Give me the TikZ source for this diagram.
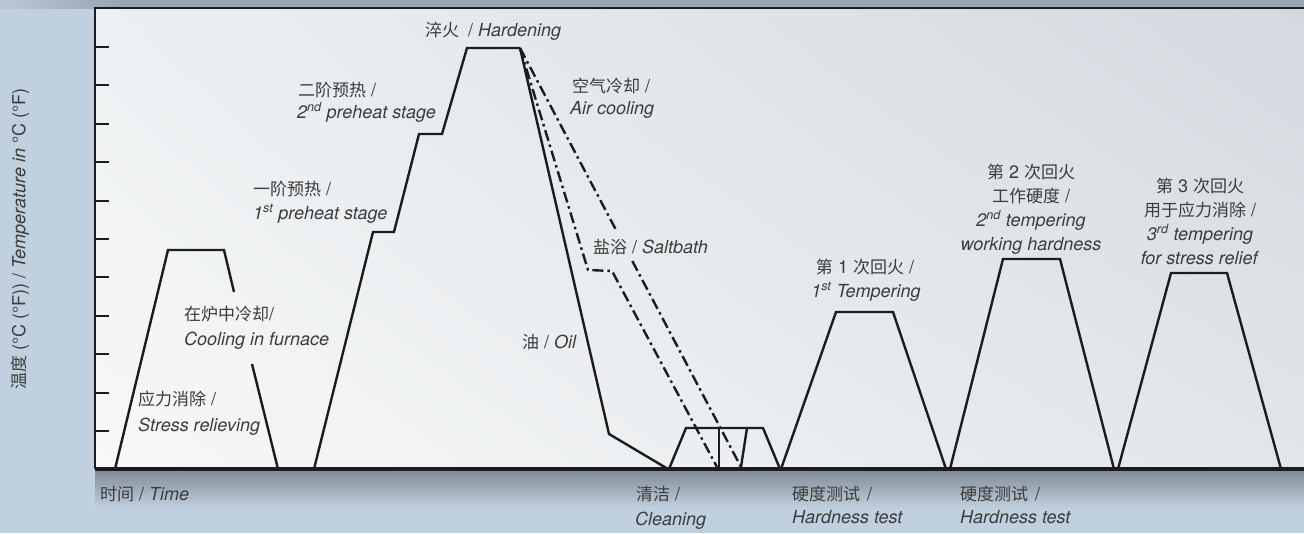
\documentclass[tikz,border=0pt]{standalone}
\usepackage{fontspec}
\setmainfont{TeX Gyre Heros}
\newfontfamily\cjk{Noto Sans CJK SC}
\usetikzlibrary{shadings}
\definecolor{bgblue}{HTML}{C1D0DE}
\definecolor{topband}{HTML}{9AA5B2}
\definecolor{linec}{HTML}{1C1C1C}
\definecolor{txt}{HTML}{3C3C3C}
\definecolor{shadowc}{HTML}{7F8994}
\definecolor{pul}{HTML}{EDF0F2}
\definecolor{pur}{HTML}{D3D9DF}
\definecolor{pll}{HTML}{F7F8F8}
\definecolor{plr}{HTML}{E2E6EA}
\newcommand{\zh}[1]{{\fontsize{17}{21}\selectfont\cjk #1}}
\begin{document}
\begin{tikzpicture}[x=1pt,y=-1pt,
  curve/.style={draw=linec, line width=2.4pt, line join=miter},
  dashdot/.style={curve, dash pattern=on 11pt off 4pt on 2.5pt off 4pt},
  tick/.style={draw=linec, line width=1.8pt},
  lbl/.style={text=txt, font=\fontsize{18}{21}\selectfont, inner sep=0pt, anchor=base west},
  lblc/.style={lbl, anchor=base},
]
\useasboundingbox (0,0) rectangle (1304,533);
% backgrounds
\fill[bgblue] (0,0) rectangle (1304,533);
\shade[left color=bgblue!80!topband, right color=topband] (0,0) rectangle (120,8);
\fill[topband] (120,0) rectangle (1304,8);
\shade[upper left=pul, upper right=pur, lower left=pll, lower right=plr] (95,8) rectangle (1304,469);
\shade[top color=shadowc, bottom color=bgblue] (95,469) rectangle (1304,508);
% frame
\draw[linec, line width=2pt] (95,469) -- (95,8) -- (1304,8);
\foreach \y in {47,85,124,162,201,239,277,316,354,393,431}
  \draw[tick] (95,\y) -- (109,\y);
% stress relieving
\draw[curve] (115,469) -- (168,250) -- (224,250) -- (234,292);
\draw[curve] (252,364) -- (278,469);
% hardening
\draw[curve] (314,469) -- (373,232) -- (394,232) -- (419,134) -- (442,134) -- (467,48) -- (520,48);
% oil
\draw[curve] (520,48) -- (609,434) -- (668,469);
% saltbath
\draw[dashdot] (520,48) -- (588,270) -- (612,271) -- (717,467);
% air cooling (interrupted by its label)
\draw[dashdot] (520,48) -- (615.5,229);
\draw[dashdot] (632.3,261) -- (741,467);
\draw[curve] (741,467) -- (747,428);
\draw[curve] (719,469) -- (719,428);
% cleaning
\draw[curve] (669,469) -- (686,428) -- (763,428) -- (780,469);
% temperings
\draw[curve] (781,469) -- (836,312) -- (893,312) -- (946,469);
\draw[curve] (950,469) -- (1003,259) -- (1060,259) -- (1114,469);
\draw[curve] (1118,469) -- (1171,273) -- (1227,273) -- (1281,469);
% axis
\draw[linec, line width=4pt] (95,469) -- (1304,469);
% labels
\node[text=txt, font=\fontsize{18}{21}\selectfont, rotate=90, inner sep=0pt] (ylab) at (20,239) {\zh{温度} (°C (°F)) / \textit{Temperature in} °C (°F)};
\node[lbl] (hard) at (425,36) {\zh{淬火}\hspace{9pt}/ \textit{Hardening}};
\node[lbl] (pre2a) at (298,96) {\zh{二阶预热} /};
\node[lbl] (pre2b) at (297,118) {\textit{2\textsuperscript{nd} preheat stage}};
\node[lbl] (pre1a) at (253,195) {\zh{一阶预热} /};
\node[lbl] (pre1b) at (253,219) {\textit{1\textsuperscript{st} preheat stage}};
\node[lbl] (furna) at (184,320) {\zh{在炉中冷却}/};
\node[lbl] (furnb) at (184,345) {\textit{Cooling in furnace}};
\node[lbl] (stra) at (138,405) {\zh{应力消除} /};
\node[lbl] (strb) at (138,431) {\textit{Stress relieving}};
\node[lbl] (time) at (100,500) {\zh{时间} / \textit{Time}};
\node[lbl] (aira) at (572,92) {\zh{空气冷却} /};
\node[lbl] (airb) at (570,114) {\textit{Air cooling}};
\node[lbl] (salt) at (593,253) {\zh{盐浴} / \textit{Saltbath}};
\node[lbl] (oil) at (522,348) {\zh{油} / \textit{Oil}};
\node[lbl] (clea) at (636,500) {\zh{清洁} /};
\node[lbl] (cleb) at (635,525) {\textit{Cleaning}};
\node[lbl] (ht1a) at (792,500) {\zh{硬度测试}\hspace{7pt}/};
\node[lbl] (ht1b) at (792,523) {\textit{Hardness test}};
\node[lbl] (ht2a) at (960,500) {\zh{硬度测试}\hspace{7pt}/};
\node[lbl] (ht2b) at (960,523) {\textit{Hardness test}};
\node[lblc] (t1a) at (865,273) {\zh{第} 1 \zh{次回火} /};
\node[lblc] (t1b) at (866,297) {\textit{1\textsuperscript{st} Tempering}};
\node[lblc] (t2a) at (1031,178) {\zh{第} 2 \zh{次回火}};
\node[lblc] (t2b) at (1031,202) {\zh{工作硬度} /};
\node[lblc] (t2c) at (1031,226) {\textit{2\textsuperscript{nd} tempering}};
\node[lblc] (t2d) at (1031,250) {\textit{working hardness}};
\node[lblc] (t3a) at (1200,192) {\zh{第} 3 \zh{次回火}};
\node[lblc] (t3b) at (1200,216) {\zh{用于应力消除} /};
\node[lblc] (t3c) at (1200,240) {\textit{3\textsuperscript{rd} tempering}};
\node[lblc] (t3d) at (1200,264) {\textit{for stress relief}};
\end{tikzpicture}
\end{document}
